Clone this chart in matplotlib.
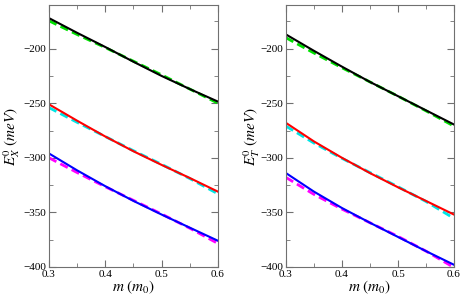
import numpy as np
from matplotlib import pyplot as plt
from matplotlib.ticker import MultipleLocator, FormatStrFormatter

plt.rcParams['font.family'] = ['Liberation Serif', 'DejaVu Serif']
plt.rcParams['mathtext.fontset'] = 'stix'

# Masses (m0) and energies (meV).
m = [0.30, 0.35, 0.40, 0.45, 0.50, 0.55, 0.60]

ex_black = [-172, -185.5, -198.5, -212, -225, -237, -248.5]
ex_green = [-174.5, -187, -199, -211.5, -224, -237, -250]
ex_red = [-251, -266, -280.5, -294, -306.5, -318.5, -331]
ex_cyan = [-254, -267.5, -280.5, -293.5, -306, -319, -333]
ex_blue = [-296, -311.5, -326, -339.5, -352, -364, -376]
ex_magenta = [-300, -313.5, -326.5, -339, -351.5, -364.5, -378.5]

et_black = [-187, -202, -216.5, -230.5, -243.5, -256.5, -269.5]
et_green = [-190, -204, -217.5, -230.5, -243.5, -257, -271]
et_red = [-268, -285, -300, -314, -327, -339.5, -352]
et_cyan = [-271, -286.5, -300.5, -313.5, -326.5, -340, -355.5]
et_blue = [-314, -331, -346, -359.5, -372.5, -385.5, -398]
et_magenta = [-318, -333.5, -347, -359.5, -372, -385.5, -400.5]

panels = [
    (ex_black, ex_green, ex_red, ex_cyan, ex_blue, ex_magenta, r'$E_X^0\ (meV)$', -0.158),
    (et_black, et_green, et_red, et_cyan, et_blue, et_magenta, r'$E_T^0\ (meV)$', -0.143),
]

fig = plt.figure(figsize=(4.63, 2.95), dpi=100)
boxes = [[0.1058, 0.095, 0.365, 0.888], [0.6177, 0.095, 0.3629, 0.888]]

for box, (bk, gr, rd, cy, bl, mg, ylab, lx) in zip(boxes, panels):
    ax = fig.add_axes(box)
    ax.plot(m, gr, color='#00e000', lw=2, ls=(0, (3, 1.6)))
    ax.plot(m, bk, color='black', lw=1.5)
    ax.plot(m, cy, color='#00e5e5', lw=2, ls=(0, (3, 1.6)))
    ax.plot(m, rd, color='red', lw=1.5)
    ax.plot(m, mg, color='#ff00ff', lw=2, ls=(0, (3, 1.6)))
    ax.plot(m, bl, color='blue', lw=1.5)

    ax.set_xlim(0.3, 0.6)
    ax.set_ylim(-400, -160)
    ax.xaxis.set_major_locator(MultipleLocator(0.1))
    ax.xaxis.set_minor_locator(MultipleLocator(0.05))
    ax.xaxis.set_major_formatter(FormatStrFormatter('%.1f'))
    ax.yaxis.set_major_locator(MultipleLocator(50))
    ax.yaxis.set_minor_locator(MultipleLocator(25))
    ax.tick_params(which='both', direction='in', top=True, right=True,
                   color='#707070', labelsize=8, pad=2)
    ax.tick_params(which='major', length=5)
    ax.tick_params(which='minor', length=3)
    for s in ax.spines.values():
        s.set_color('#707070')
    ax.set_xlabel(r'$m\ (m_0)$', fontsize=11, labelpad=0)
    ax.set_ylabel(ylab, fontsize=11)
    ax.yaxis.set_label_coords(lx, 0.5)

fig.savefig('out.png', dpi=100)
